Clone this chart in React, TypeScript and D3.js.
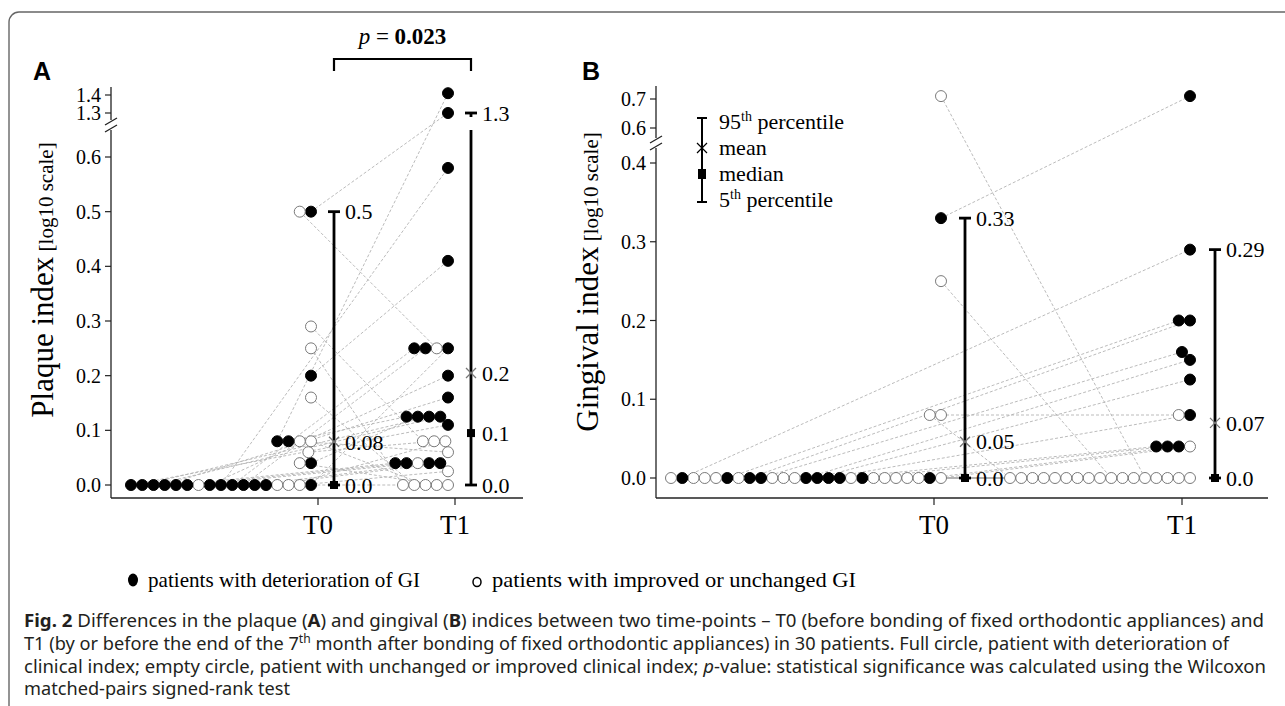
import React from "react";
import * as d3 from "d3";

// ---------------- DATA ----------------
const timeLabels = ["T0", "T1"];

// Panel A – plaque index per patient (T0, T1) and deterioration flag
const plaqueT0 = [0, 0.5, 0.5, 0, 0, 0, 0, 0, 0, 0, 0, 0, 0, 0, 0, 0, 0, 0, 0, 0.04, 0.04, 0.06, 0.08, 0.08, 0.08, 0.08, 0.16, 0.2, 0.25, 0.29];
const plaqueT1 = [0.25, 1.3, 0.25, 0.025, 0.08, 0, 0.04, 0.04, 0.25, 0.25, 0.58, 0.2, 0.04, 0.04, 0.04, 0.16, 0.125, 0.125, 0.11, 0.125, 0, 0.08, 0, 0.06, 0.125, 1.41, 0, 0.41, 0, 0.08];
const plaqueWorse = [1, 1, 0, 0, 0, 0, 1, 1, 1, 1, 1, 1, 0, 1, 1, 1, 1, 1, 1, 1, 0, 0, 0, 0, 1, 1, 0, 1, 0, 0];

// Panel B – gingival index per patient
const gingivalT0 = [0, 0, 0, 0, 0, 0, 0.71, 0, 0, 0, 0.25, 0, 0, 0, 0, 0, 0, 0, 0, 0, 0, 0, 0, 0, 0, 0, 0, 0.08, 0.08, 0.33];
const gingivalT1 = [0.04, 0.04, 0, 0, 0, 0, 0, 0, 0.04, 0, 0, 0.04, 0.08, 0.125, 0.15, 0, 0, 0, 0.16, 0.2, 0, 0.2, 0, 0, 0, 0.29, 0, 0.08, 0, 0.71];
const gingivalWorse = [0, 1, 0, 0, 0, 0, 0, 0, 1, 0, 0, 1, 1, 1, 1, 0, 0, 0, 1, 1, 0, 1, 0, 0, 0, 1, 0, 0, 0, 1];

// Summary statistics: [5th percentile, median, mean, 95th percentile]
const plaqueStatsT0 = [0, 0, 0.079, 0.5];
const plaqueStatsT1 = [0, 0.095, 0.205, 1.3];
const gingivalStatsT0 = [0, 0, 0.046, 0.33];
const gingivalStatsT1 = [0, 0, 0.07, 0.29];

const plaqueLabelsT0 = [{ v: 0, t: "0.0" }, { v: 0.079, t: "0.08" }, { v: 0.5, t: "0.5" }];
const plaqueLabelsT1 = [{ v: 0, t: "0.0" }, { v: 0.095, t: "0.1" }, { v: 0.205, t: "0.2" }, { v: 1.3, t: "1.3" }];
const gingivalLabelsT0 = [{ v: 0, t: "0.0" }, { v: 0.046, t: "0.05" }, { v: 0.33, t: "0.33" }];
const gingivalLabelsT1 = [{ v: 0, t: "0.0" }, { v: 0.07, t: "0.07" }, { v: 0.29, t: "0.29" }];

const plaqueTicksLower = [0, 0.1, 0.2, 0.3, 0.4, 0.5, 0.6];
const plaqueTicksUpper = [1.3, 1.4];
const gingivalTicksLower = [0, 0.1, 0.2, 0.3, 0.4];
const gingivalTicksUpper = [0.6, 0.7];

// ---------------- LAYOUT ----------------
const SERIF = "'Liberation Serif', 'Times New Roman', serif";
const SANS = "'Liberation Sans', Arial, sans-serif";
const CAPTION = "'Noto Sans', 'Open Sans', sans-serif";
const D = 11.25; // dot spacing
const R = 5.5;

const panels = [
  {
    letter: "A",
    title: "Plaque index",
    t0: plaqueT0, t1: plaqueT1, worse: plaqueWorse,
    stats: [plaqueStatsT0, plaqueStatsT1],
    labels: [plaqueLabelsT0, plaqueLabelsT1],
    ticksLower: plaqueTicksLower, ticksUpper: plaqueTicksUpper,
    L: {
      axisX: 111, axisTop: 87, baseY: 498, right: 523,
      tickX: [318, 455], colX: [311, 448], barX: [334, 471],
      breakY: 125, lowerD: [0, 0.6], lowerR: [485, 157], upperD: [1.3, 1.4], upperR: [113, 95], breakVal: 0.9,
      titleX: 53, titleY: 280, letterX: 33,
    },
  },
  {
    letter: "B",
    title: "Gingival index",
    t0: gingivalT0, t1: gingivalT1, worse: gingivalWorse,
    stats: [gingivalStatsT0, gingivalStatsT1],
    labels: [gingivalLabelsT0, gingivalLabelsT1],
    ticksLower: gingivalTicksLower, ticksUpper: gingivalTicksUpper,
    L: {
      axisX: 656, axisTop: 86, baseY: 498, right: 1268,
      tickX: [934, 1182], colX: [941, 1190], barX: [965, 1215],
      breakY: 143, lowerD: [0, 0.4], lowerR: [478, 163], upperD: [0.6, 0.7], upperR: [128, 99], breakVal: 0.5,
      titleX: 598, titleY: 282, letterX: 582,
    },
  },
];

function swarm(values: number[], y: (v: number) => number, col: number) {
  const order = d3.range(values.length).sort((a, b) => values[a] - values[b] || a - b);
  const xs: number[] = new Array(values.length);
  const placed: { x: number; y: number }[] = [];
  for (const i of order) {
    const yi = y(values[i]);
    const cands = [col];
    for (const p of placed) {
      const dy = Math.abs(p.y - yi);
      if (dy < D) cands.push(p.x - Math.sqrt(D * D - dy * dy));
    }
    cands.sort((a, b) => b - a);
    let xi = cands[cands.length - 1];
    for (const c of cands) {
      if (c > col + 1e-6) continue;
      if (placed.every((p) => (p.x - c) ** 2 + (p.y - yi) ** 2 >= D * D - 0.01)) {
        xi = c;
        break;
      }
    }
    xs[i] = xi;
    placed.push({ x: xi, y: yi });
  }
  return xs;
}

function Panel({ p }: { p: any }) {
  const L = p.L;
  const lo = d3.scaleLinear().domain(L.lowerD).range(L.lowerR);
  const hi = d3.scaleLinear().domain(L.upperD).range(L.upperR);
  const y = (v: number) => (v > L.breakVal ? hi(v) : lo(v));
  const x0 = swarm(p.t0, y, L.colX[0]);
  const x1 = swarm(p.t1, y, L.colX[1]);
  const ax = L.axisX;
  const bY = L.breakY;
  return (
    <g>
      {/* panel letter */}
      <text x={L.letterX} y={80} fontFamily={SANS} fontWeight="bold" fontSize={25}>{p.letter}</text>
      {/* y-axis title */}
      <text transform={`translate(${L.titleX},${L.titleY}) rotate(-90)`} textAnchor="middle" fontFamily={SERIF}>
        <tspan fontSize={31}>{p.title}</tspan>
        <tspan fontSize={21}> [log10 scale]</tspan>
      </text>
      {/* y axis with break */}
      <line x1={ax} x2={ax} y1={L.axisTop} y2={bY - 5} stroke="#222" strokeWidth={1.3} />
      <line x1={ax} x2={ax} y1={bY + 5} y2={L.baseY} stroke="#222" strokeWidth={1.3} />
      {[-3.5, 3.5].map((o) => (
        <line key={o} x1={ax - 6} y1={bY + o + 3.5} x2={ax + 6} y2={bY + o - 3.5} stroke="#222" strokeWidth={1.3} />
      ))}
      {[...p.ticksLower, ...p.ticksUpper].map((t: number) => (
        <g key={t}>
          <line x1={ax - 6} x2={ax} y1={y(t)} y2={y(t)} stroke="#222" strokeWidth={1.2} />
          <text x={ax - 10} y={y(t)} dy="0.35em" textAnchor="end" fontSize={20} fontFamily={SERIF}>{t.toFixed(1)}</text>
        </g>
      ))}
      {/* x axis */}
      <line x1={ax} x2={L.right} y1={L.baseY} y2={L.baseY} stroke="#222" strokeWidth={1.3} />
      {timeLabels.map((t, i) => (
        <g key={t}>
          <line x1={L.tickX[i]} x2={L.tickX[i]} y1={L.baseY} y2={L.baseY + 7} stroke="#222" strokeWidth={1.2} />
          <text x={L.tickX[i]} y={534} textAnchor="middle" fontSize={27} fontFamily={SERIF}>{t}</text>
        </g>
      ))}
      {/* connecting lines */}
      {p.t0.map((v: number, i: number) => (
        <line key={"l" + i} x1={x0[i]} y1={y(v)} x2={x1[i]} y2={y(p.t1[i])} stroke="#b3b3b3" strokeWidth={0.9} strokeDasharray="3 2" />
      ))}
      {/* dots */}
      {[p.t0, p.t1].map((vals: number[], k: number) =>
        vals.map((v: number, i: number) => (
          <circle key={k + "-" + i} cx={(k === 0 ? x0 : x1)[i]} cy={y(v)} r={R}
            fill={p.worse[i] ? "#000" : "#fff"} stroke={p.worse[i] ? "#000" : "#7a7a7a"} strokeWidth={1} />
        ))
      )}
      {/* summary bars */}
      {p.stats.map((s: number[], k: number) => {
        const bx = L.barX[k];
        const [p5, med, mean, p95] = s;
        const broken = p95 > L.breakVal;
        return (
          <g key={"s" + k}>
            {broken ? (
              <>
                <line x1={bx} x2={bx} y1={y(p5)} y2={bY + 5} stroke="#000" strokeWidth={2.8} />
                <line x1={bx} x2={bx} y1={y(p95)} y2={bY - 8} stroke="#000" strokeWidth={2.8} />
              </>
            ) : (
              <line x1={bx} x2={bx} y1={y(p5)} y2={y(p95)} stroke="#000" strokeWidth={2.8} />
            )}
            <line x1={bx - 6} x2={bx + 6} y1={y(p5)} y2={y(p5)} stroke="#000" strokeWidth={2.8} />
            <line x1={bx - 6} x2={bx + 6} y1={y(p95)} y2={y(p95)} stroke="#000" strokeWidth={2.8} />
            <rect x={bx - 4} y={y(med) - 4} width={8} height={8} fill="#000" />
            <path d={`M${bx - 5},${y(mean) - 5}L${bx + 5},${y(mean) + 5}M${bx - 5},${y(mean) + 5}L${bx + 5},${y(mean) - 5}`} stroke="#777" strokeWidth={1.3} />
            {p.labels[k].map((lb: any) => (
              <text key={lb.t} x={bx + 11} y={y(lb.v)} dy="0.35em" fontSize={22} fontFamily={SERIF}>{lb.t}</text>
            ))}
          </g>
        );
      })}
    </g>
  );
}

export default function App() {
  const pA = panels[0].L;
  return (
    <svg width={1285} height={706} style={{ position: "absolute", left: 0, top: 0, background: "#fff" }}>
      <rect width={1285} height={706} fill="#fff" />
      <path d="M9,706V22A10,10 0 0 1 19,12H1285" fill="none" stroke="#666" strokeWidth={1.4} />
      {/* p-value bracket */}
      <path d={`M${pA.barX[0]},71V59H${pA.barX[1]}V71`} fill="none" stroke="#000" strokeWidth={2.2} />
      <text x={(pA.barX[0] + pA.barX[1]) / 2} y={44} textAnchor="middle" fontSize={23} fontFamily={SERIF}>
        <tspan fontStyle="italic">p</tspan> = <tspan fontWeight="bold">0.023</tspan>
      </text>
      {panels.map((p) => <Panel key={p.letter} p={p} />)}
      {/* B legend for summary bars */}
      <g fontFamily={SERIF} fontSize={22}>
        <line x1={702} x2={702} y1={118} y2={202} stroke="#000" strokeWidth={2} />
        <line x1={697} x2={707} y1={118} y2={118} stroke="#000" strokeWidth={2} />
        <line x1={697} x2={707} y1={202} y2={202} stroke="#000" strokeWidth={2} />
        <path d="M697,143L707,153M697,153L707,143" stroke="#000" strokeWidth={1.2} />
        <rect x={698} y={169} width={8} height={10} fill="#000" />
        <text x={719} y={129}>95<tspan fontSize={14} dy={-8}>th</tspan><tspan dy={8}> percentile</tspan></text>
        <text x={719} y={155}>mean</text>
        <text x={719} y={181}>median</text>
        <text x={719} y={207}>5<tspan fontSize={14} dy={-8}>th</tspan><tspan dy={8}> percentile</tspan></text>
      </g>
      {/* dot legend */}
      <g fontFamily={SERIF} fontSize={21}>
        <ellipse cx={133} cy={580} rx={5} ry={6.5} fill="#000" />
        <text x={148} y={587} textLength={272} lengthAdjust="spacingAndGlyphs">patients with deterioration of GI</text>
        <ellipse cx={477} cy={582} rx={4} ry={4.5} fill="#fff" stroke="#000" strokeWidth={1.5} />
        <text x={492} y={587} textLength={364} lengthAdjust="spacingAndGlyphs">patients with improved or unchanged GI</text>
      </g>
      {/* caption */}
      <g fontFamily={CAPTION} fontSize={18} fill="#231f20">
        <text x={24} y={627} textLength={1240} lengthAdjust="spacingAndGlyphs">
          <tspan fontWeight="bold">Fig. 2</tspan>{"  Differences in the plaque ("}<tspan fontWeight="bold">A</tspan>{") and gingival ("}<tspan fontWeight="bold">B</tspan>{") indices between two time-points – T0 (before bonding of fixed orthodontic appliances) and"}
        </text>
        <text x={24} y={650} textLength={1205} lengthAdjust="spacingAndGlyphs">
          {"T1 (by or before the end of the 7"}<tspan fontSize={12} dy={-7}>th</tspan><tspan dy={7}>{" month after bonding of fixed orthodontic appliances) in 30 patients. Full circle, patient with deterioration of"}</tspan>
        </text>
        <text x={24} y={673} textLength={1242} lengthAdjust="spacingAndGlyphs">
          {"clinical index; empty circle, patient with unchanged or improved clinical index; "}<tspan fontStyle="italic">p</tspan>{"-value: statistical significance was calculated using the Wilcoxon"}
        </text>
        <text x={24} y={695} textLength={266} lengthAdjust="spacingAndGlyphs">matched-pairs signed-rank test</text>
      </g>
    </svg>
  );
}
